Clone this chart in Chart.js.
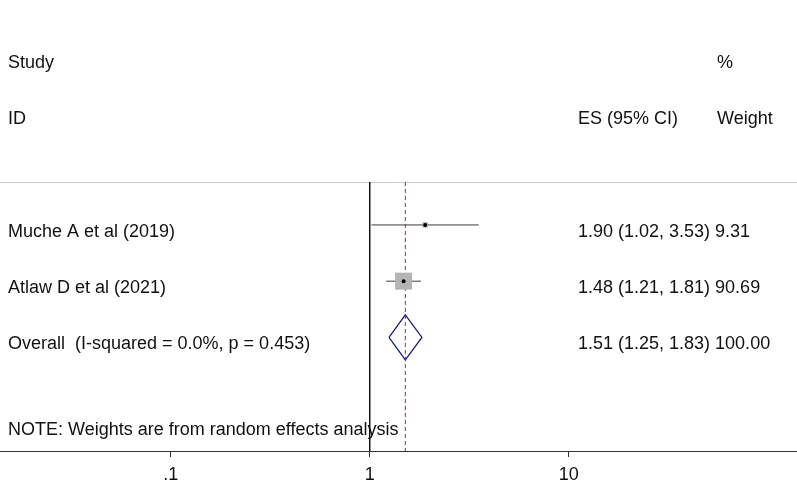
<!DOCTYPE html>
<html>
<head>
<meta charset="utf-8">
<script src="https://cdn.jsdelivr.net/npm/chart.js@4.4.1/dist/chart.umd.min.js"></script>
<style>
  html, body { margin: 0; padding: 0; background: #fff; }
  canvas { display: block; }
</style>
</head>
<body>
<canvas id="c" width="797" height="504"></canvas>
<script>
// ---- data ----
const studies = ['Muche A et al (2019)', 'Atlaw D et al (2021)'];
const esValues = [1.90, 1.48];
const ciLow = [1.02, 1.21];
const ciHigh = [3.53, 1.81];
const weights = [9.31, 90.69];
const overallLabel = 'Overall  (I-squared = 0.0%, p = 0.453)';
const overallES = [1.51];
const overallLow = [1.25];
const overallHigh = [1.83];
const overallWeight = [100.00];
const headerLeft = ['Study', 'ID'];
const headerMid = ['', 'ES (95% CI)'];
const headerRight = ['%', 'Weight'];
const noteText = 'NOTE: Weights are from random effects analysis';
const tickValues = [0.1, 1, 10];
const tickLabels = ['.1', '1', '10'];

// ---- layout constants ----
const X_MIN = 0.01387, X_MAX = 140.4;
const Y_MIN = -3, Y_MAX = 5.02;
const GRID_ROW = 0.236;
const NOTE_ROW = 4.53;
const TEXT_DY = 0.125;
const FONT = '"Liberation Sans", Arial, sans-serif';
const FS = 18;

const studyRows = studies.map((_, i) => i + 1);
const overallRow = studies.length + 1;

const datasets = [];
// CI lines
studies.forEach((s, i) => {
  datasets.push({
    data: [{x: ciLow[i], y: studyRows[i]}, {x: ciHigh[i], y: studyRows[i]}],
    showLine: true, borderColor: '#3c3c3c', borderWidth: 1, pointRadius: 0, order: 5
  });
});
// weight squares
const kSize = 12 / Math.sqrt(90.69);
datasets.push({
  data: studies.map((s, i) => ({x: esValues[i], y: studyRows[i]})),
  pointStyle: 'rect', pointRadius: weights.map(w => kSize * Math.sqrt(w)),
  backgroundColor: '#b4b4b4', borderWidth: 0, order: 3
});
// point estimate dots
datasets.push({
  data: studies.map((s, i) => ({x: esValues[i], y: studyRows[i]})),
  pointStyle: 'circle', pointRadius: 2, backgroundColor: '#000', borderWidth: 0, order: 1
});
// diamond
const dh = 0.4;
datasets.push({
  data: [
    {x: overallLow[0], y: overallRow},
    {x: overallES[0], y: overallRow - dh},
    {x: overallHigh[0], y: overallRow},
    {x: overallES[0], y: overallRow + dh},
    {x: overallLow[0], y: overallRow}
  ],
  showLine: true, borderColor: '#1c1c8c', borderWidth: 1.3, pointRadius: 0, fill: false, order: 2
});
// null line at 1
datasets.push({
  data: [{x: 1, y: GRID_ROW}, {x: 1, y: Y_MAX}],
  showLine: true, borderColor: '#111', borderWidth: 1, pointRadius: 0, order: 6
});
// overall dashed line
datasets.push({
  data: [{x: overallES[0], y: GRID_ROW}, {x: overallES[0], y: Y_MAX}],
  showLine: true, borderColor: '#a52a3c', borderWidth: 1, borderDash: [4, 3], pointRadius: 0, order: 4
});

function fmt(v) { return v.toFixed(2); }

const textPlugin = {
  id: 'forestText',
  beforeDatasetsDraw(chart) {
    const ctx = chart.ctx, ys = chart.scales.y;
    const gy = Math.round(ys.getPixelForValue(GRID_ROW)) + 0.5;
    ctx.save();
    ctx.strokeStyle = '#cccccc';
    ctx.lineWidth = 1;
    ctx.beginPath();
    ctx.moveTo(0, gy);
    ctx.lineTo(chart.width, gy);
    ctx.stroke();
    ctx.restore();
  },
  afterDraw(chart) {
    const ctx = chart.ctx, ys = chart.scales.y;
    const xL = 8, xM = 578, xR = 717;
    ctx.save();
    ctx.fillStyle = '#111';
    ctx.font = FS + 'px ' + FONT;
    ctx.textBaseline = 'middle';
    ctx.textAlign = 'left';
    headerLeft.forEach((t, i) => {
      const y = ys.getPixelForValue(-2 + i + TEXT_DY);
      ctx.fillText(t, xL, y);
      if (headerMid[i]) ctx.fillText(headerMid[i], xM, y);
      ctx.fillText(headerRight[i], xR, y);
    });
    studies.forEach((s, i) => {
      const y = ys.getPixelForValue(studyRows[i] + TEXT_DY);
      ctx.fillText(s, xL, y);
      ctx.fillText(fmt(esValues[i]) + ' (' + fmt(ciLow[i]) + ', ' + fmt(ciHigh[i]) + ') ' + fmt(weights[i]), xM, y);
    });
    const yo = ys.getPixelForValue(overallRow + TEXT_DY);
    ctx.fillText(overallLabel, xL, yo);
    ctx.fillText(fmt(overallES[0]) + ' (' + fmt(overallLow[0]) + ', ' + fmt(overallHigh[0]) + ') ' + fmt(overallWeight[0]), xM, yo);
    ctx.fillText(noteText, xL, ys.getPixelForValue(NOTE_ROW + TEXT_DY));
    ctx.restore();
  }
};

new Chart(document.getElementById('c'), {
  type: 'scatter',
  data: { datasets },
  plugins: [textPlugin],
  options: {
    responsive: false,
    animation: false,
    layout: { padding: 0, autoPadding: false },
    plugins: { legend: { display: false }, tooltip: { enabled: false } },
    scales: {
      x: {
        type: 'logarithmic',
        position: 'bottom',
        min: X_MIN, max: X_MAX,
        afterBuildTicks: s => { s.ticks = tickValues.map(v => ({ value: v })); },
        afterFit: s => { s.height = 53; },
        grid: { drawOnChartArea: false, drawTicks: true, tickLength: 6, color: '#333', lineWidth: 1 },
        border: { color: '#333', width: 1 },
        ticks: {
          autoSkip: false, maxRotation: 0, padding: 7,
          color: '#111', font: { family: FONT, size: FS },
          callback: (v, i) => tickLabels[i]
        }
      },
      y: {
        type: 'linear', display: false, reverse: true,
        min: Y_MIN, max: Y_MAX
      }
    }
  }
});
</script>
</body>
</html>
